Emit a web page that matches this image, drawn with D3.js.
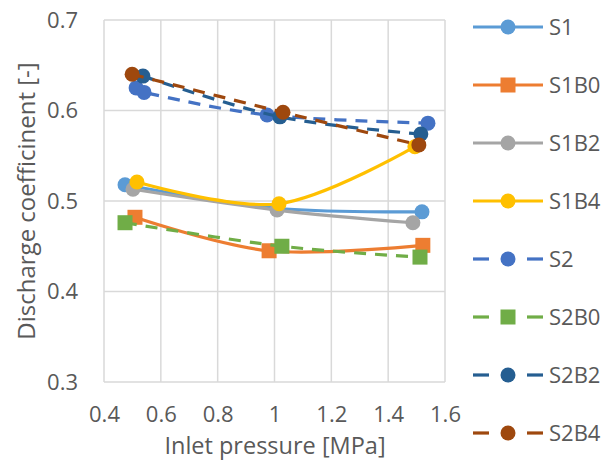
<!DOCTYPE html>
<html><head><meta charset="utf-8">
<script src="https://cdn.jsdelivr.net/npm/d3@7"></script>
<style>html,body{margin:0;padding:0;background:#fff;}svg{display:block;font-family:"Open Sans",sans-serif;}</style>
</head><body>
<svg id="chart" width="615" height="460"></svg>
<script>
const seriesNames = ["S1","S1B0","S1B2","S1B4","S2","S2B0","S2B2","S2B4"];
const S1   = [[0.474,0.518],[1.009,0.492],[1.519,0.488]];
const S1B0 = [[0.509,0.482],[0.981,0.445],[1.522,0.451]];
const S1B2 = [[0.502,0.513],[1.009,0.490],[1.487,0.476]];
const S1B4 = [[0.516,0.521],[1.016,0.497],[1.494,0.560]];
const S2   = [[0.513,0.625],[0.541,0.620],[0.974,0.595],[1.540,0.586]];
const S2B0 = [[0.474,0.476],[1.026,0.450],[1.512,0.438]];
const S2B2 = [[0.537,0.638],[1.019,0.593],[1.515,0.574]];
const S2B4 = [[0.499,0.640],[1.030,0.598],[1.508,0.562]];
const xTicks = [0.4,0.6,0.8,1.0,1.2,1.4,1.6];
const yTicks = [0.3,0.4,0.5,0.6,0.7];

const styles = {
  S1:{color:"#5B9BD5",dash:null,marker:"circle"},
  S1B0:{color:"#ED7D31",dash:null,marker:"square"},
  S1B2:{color:"#A5A5A5",dash:null,marker:"circle"},
  S1B4:{color:"#FFC000",dash:null,marker:"circle"},
  S2:{color:"#4472C4",dash:"12,9",marker:"circle"},
  S2B0:{color:"#70AD47",dash:"12,9",marker:"square"},
  S2B2:{color:"#255E91",dash:"12,9",marker:"circle"},
  S2B4:{color:"#9E480E",dash:"12,9",marker:"circle"}
};
const data = {S1,S1B0,S1B2,S1B4,S2,S2B0,S2B2,S2B4};

const svg = d3.select("#chart");
const x = d3.scaleLinear().domain([0.4,1.6]).range([104,445]);
const y = d3.scaleLinear().domain([0.3,0.7]).range([382,20]);
const txt = "#595959";

// gridlines
svg.append("g").selectAll("line").data(xTicks).join("line")
  .attr("x1",d=>x(d)).attr("x2",d=>x(d)).attr("y1",y(0.3)).attr("y2",y(0.7))
  .attr("stroke","#D9D9D9").attr("stroke-width",1.5);
svg.append("g").selectAll("line").data(yTicks).join("line")
  .attr("x1",x(0.4)).attr("x2",x(1.6)).attr("y1",d=>y(d)).attr("y2",d=>y(d))
  .attr("stroke","#D9D9D9").attr("stroke-width",1.5);

// axes labels via d3 axes
const xAxis = svg.append("g").attr("transform",`translate(0,${y(0.3)})`)
  .call(d3.axisBottom(x).tickValues(xTicks).tickSize(0).tickPadding(24).tickFormat(d=>d3.format("")(+d.toFixed(1))));
xAxis.select(".domain").remove();
xAxis.selectAll("text").attr("fill",txt).style("font-size","22px").style("font-family","'Open Sans',sans-serif");
const yAxis = svg.append("g").attr("transform",`translate(${x(0.4)},0)`)
  .call(d3.axisLeft(y).tickValues(yTicks).tickSize(0).tickPadding(26).tickFormat(d3.format(".1f")));
yAxis.select(".domain").remove();
yAxis.selectAll("text").attr("fill",txt).style("font-size","22px").style("font-family","'Open Sans',sans-serif");

// axis titles
svg.append("text").attr("x",275).attr("y",454).attr("text-anchor","middle")
  .attr("fill",txt).style("font-size","23.5px").text("Inlet pressure [MPa]");
svg.append("text").attr("transform","translate(35,201) rotate(-90)").attr("text-anchor","middle")
  .attr("fill",txt).style("font-size","24px").text("Discharge coefficinent [-]");

const line = d3.line().x(d=>x(d[0])).y(d=>y(d[1])).curve(d3.curveCardinal.tension(0));

function marker(g, type, cx, cy, color){
  if(type==="circle"){
    g.append("circle").attr("cx",cx).attr("cy",cy).attr("r",7.5).attr("fill",color);
  } else {
    g.append("rect").attr("x",cx-7.5).attr("y",cy-7.5).attr("width",15).attr("height",15).attr("fill",color);
  }
}

const plot = svg.append("g");
seriesNames.forEach(n=>{
  const s = styles[n];
  const g = plot.append("g");
  g.append("path").datum(data[n]).attr("d",line).attr("fill","none")
    .attr("stroke",s.color).attr("stroke-width",3.2)
    .attr("stroke-dasharray",s.dash);
  data[n].forEach(p=>marker(g,s.marker,x(p[0]),y(p[1]),s.color));
});

// legend
const legY = d3.scalePoint().domain(seriesNames).range([27,433]);
const leg = svg.append("g");
seriesNames.forEach(n=>{
  const s = styles[n];
  const cy = legY(n);
  if(s.dash){
    leg.append("line").attr("x1",473).attr("x2",489).attr("y1",cy).attr("y2",cy).attr("stroke",s.color).attr("stroke-width",3.2);
    leg.append("line").attr("x1",527).attr("x2",543).attr("y1",cy).attr("y2",cy).attr("stroke",s.color).attr("stroke-width",3.2);
  } else {
    leg.append("line").attr("x1",473).attr("x2",543).attr("y1",cy).attr("y2",cy).attr("stroke",s.color).attr("stroke-width",3.2);
  }
  marker(leg,s.marker,508,cy,s.color);
  leg.append("text").attr("x",549).attr("y",cy).attr("dy","0.35em").attr("fill",txt)
    .style("font-size","22px").text(n);
});
</script>
</body></html>
